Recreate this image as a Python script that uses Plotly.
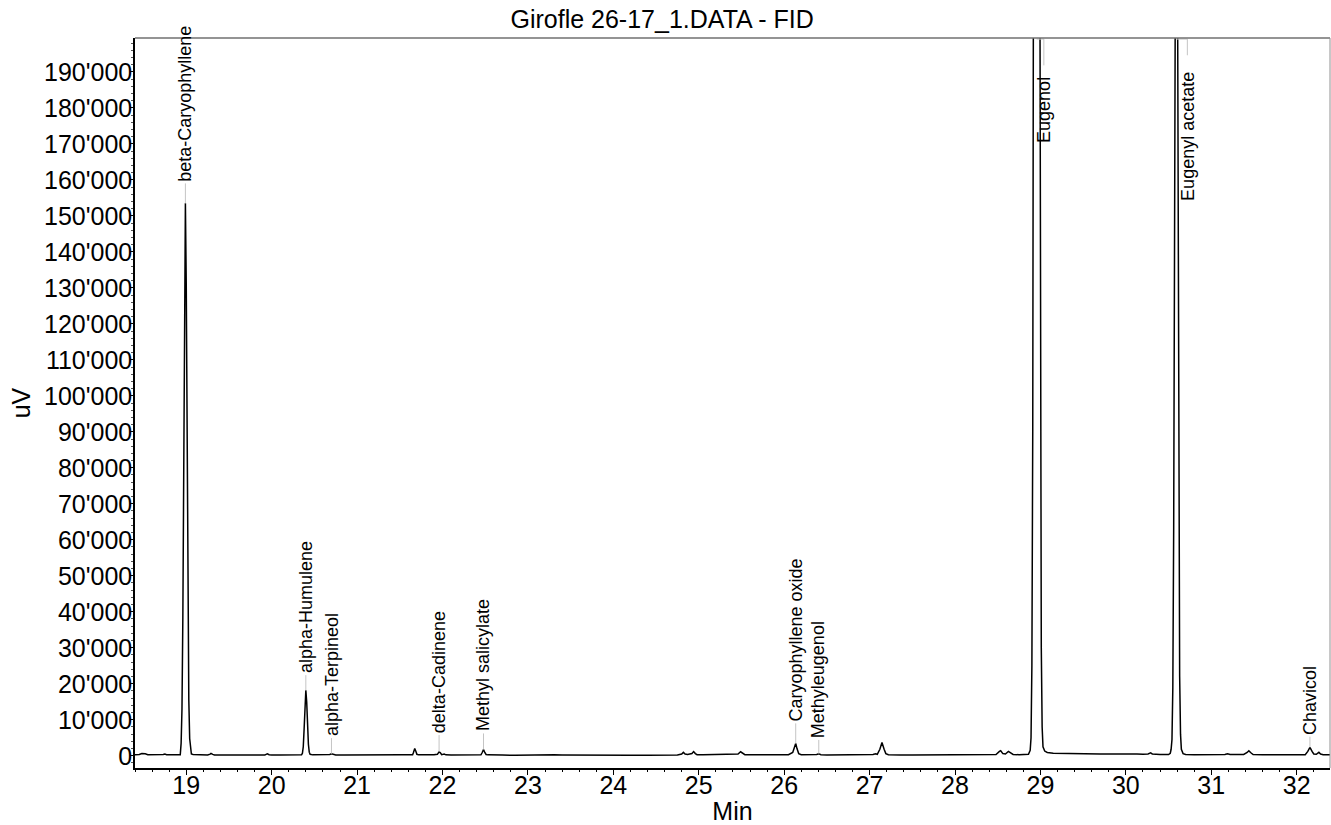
import plotly.graph_objects as go

# ---------------- data ----------------
time_min = [
    18.40, 18.45, 18.48, 18.50, 18.52, 18.55, 18.62, 18.70, 18.73, 18.75, 18.77, 18.82, 18.90,
    18.93, 18.94, 18.95, 18.96, 18.97, 18.98, 18.99, 19.00, 19.01, 19.02, 19.03, 19.04, 19.05, 19.06,
    19.08, 19.15, 19.25, 19.28, 19.29, 19.31, 19.33, 19.45, 19.60, 19.80, 19.92, 19.94, 19.95, 19.97,
    20.00, 20.10, 20.18, 20.20, 20.25, 20.30, 20.35, 20.36, 20.37, 20.38, 20.39, 20.40, 20.41, 20.42,
    20.43, 20.44, 20.45, 20.48, 20.55, 20.65, 20.68, 20.70, 20.72, 20.75, 20.85, 21.00, 21.10, 21.20,
    21.30, 21.36, 21.38, 21.40, 21.44, 21.46, 21.52, 21.60, 21.65, 21.66, 21.675, 21.69, 21.70, 21.72,
    21.80, 21.90, 21.94, 21.96, 21.975, 21.99, 22.02, 22.04, 22.10, 22.20, 22.30, 22.40, 22.45, 22.465,
    22.48, 22.495, 22.51, 22.53, 22.60, 22.70, 22.85, 22.93, 22.95, 22.97, 23.10, 23.18, 23.20, 23.22,
    23.27, 23.29, 23.31, 23.40, 23.60, 23.80, 24.00, 24.20, 24.40, 24.60, 24.75, 24.80, 24.82, 24.84,
    24.87, 24.92, 24.94, 24.96, 24.98, 25.05, 25.20, 25.28, 25.31, 25.42, 25.46, 25.49, 25.51, 25.54,
    25.65, 25.78, 25.82, 25.85, 25.95, 26.05, 26.10, 26.12, 26.135, 26.15, 26.17, 26.20, 26.30, 26.38,
    26.405, 26.43, 26.50, 26.60, 26.80, 26.95, 27.04, 27.07, 27.09, 27.12, 27.145, 27.17, 27.19, 27.22,
    27.33, 27.36, 27.50, 27.70, 27.85, 27.89, 27.92, 28.03, 28.06, 28.09, 28.25, 28.40, 28.48, 28.52,
    28.535, 28.56, 28.59, 28.625, 28.65, 28.68, 28.75, 28.82, 28.86, 28.88, 28.89, 28.90, 28.91, 28.92,
    28.935, 28.955, 28.975, 28.99, 29.00, 29.01, 29.02, 29.03, 29.05, 29.08, 29.15, 29.30, 29.50, 29.70,
    29.90, 30.05, 30.10, 30.13, 30.20, 30.26, 30.29, 30.31, 30.40, 30.50, 30.52, 30.53, 30.54, 30.55,
    30.56, 30.57, 30.58, 30.59, 30.60, 30.61, 30.62, 30.63, 30.64, 30.65, 30.67, 30.70, 30.80, 30.95,
    31.10, 31.16, 31.19, 31.22, 31.30, 31.38, 31.42, 31.44, 31.46, 31.49, 31.60, 31.80, 32.00, 32.10,
    32.13, 32.155, 32.18, 32.20, 32.23, 32.26, 32.28, 32.31, 32.40,
]
signal_uv = [
    300, 350, 600, 650, 550, 300, 280, 250, 350, 450, 300, 250, 250,
    300, 3500, 13000, 38000, 83000, 131000, 153500, 131000, 86000, 41000, 15500, 4800, 1400, 500,
    350, 250, 220, 450, 650, 400, 200, 180, 150, 180, 200, 450, 550, 300,
    200, 220, 300, 250, 280, 250, 280, 700, 2500, 7500, 14500, 18200, 15000, 8200,
    3200, 1000, 400, 250, 230, 250, 350, 550, 350, 220, 200, 230, 250, 280,
    300, 350, 450, 350, 450, 350, 280, 250, 300, 900, 2000, 1100, 400, 250,
    220, 250, 400, 1100, 800, 300, 450, 250, 200, 220, 200, 220, 280, 900,
    1750, 900, 350, 250, 180, 180, 170, 180, 350, 200, 180, 200, 400, 250,
    250, 400, 250, 200, 150, 120, 120, 140, 160, 180, 200, 500, 950, 500,
    350, 600, 1150, 600, 300, 250, 300, 450, 300, 300, 500, 1100, 800, 300,
    250, 300, 450, 280, 260, 280, 900, 2600, 3400, 2000, 600, 300, 250, 350,
    550, 300, 230, 250, 250, 300, 350, 550, 400, 1800, 3700, 1800, 600, 300,
    350, 200, 180, 200, 250, 420, 250, 280, 400, 250, 250, 280, 350, 1200,
    1400, 600, 500, 1200, 700, 350, 300, 300, 400, 1500, 5000, 25000, 90000, 250000,
    550000, 720000, 560000, 260000, 100000, 30000, 8000, 2500, 1300, 900, 700, 600, 550, 500,
    480, 500, 650, 500, 450, 500, 800, 500, 350, 350, 700, 1800, 4500, 19000,
    63000, 150000, 252000, 300000, 255000, 155000, 68000, 22000, 6000, 1800, 600, 350, 250, 250,
    300, 350, 550, 350, 330, 350, 900, 1400, 900, 350, 300, 280, 250, 300,
    1200, 2300, 1200, 500, 400, 950, 500, 300, 250,
]

peak_names = ["beta-Caryophyllene", "alpha-Humulene", "alpha-Terpineol", "delta-Cadinene",
              "Methyl salicylate", "Caryophyllene oxide", "Methyleugenol", "Eugenol",
              "Eugenyl acetate", "Chavicol"]
peak_rt = [18.99, 20.40, 20.70, 21.96, 22.48, 26.135, 26.405, 28.955, 30.59, 32.155]
peak_apex = [153500, 18200, 550, 1100, 1750, 3400, 550, 720000, 300000, 2300]
label_rt = [18.99, 20.40, 20.70, 21.96, 22.48, 26.135, 26.405, 29.04, 30.72, 32.155]
label_y = [159000, 22400, 4900, 5750, 6200, 9000, 4400, 189100, 190500, 5300]
leader_end = [159000, 22400, 4900, 5750, 6200, 9000, 4400, 191800, 194600, 5300]

x_range = [18.40, 32.39]
y_range = [-3400, 199400]

FONT = "Arial, Liberation Sans, sans-serif"
LEADER = "#c4c4c4"

fig = go.Figure()
fig.add_trace(go.Scatter(x=time_min, y=signal_uv, mode="lines",
                         line=dict(color="black", width=1.5), hoverinfo="x+y",
                         showlegend=False))

annotations = []
shapes = []
for name, rt, apex, lrt, ly, le in zip(peak_names, peak_rt, peak_apex, label_rt, label_y, leader_end):
    if apex > y_range[1]:
        # off-scale peak: leader runs from the top of the frame, label hangs below it
        shapes.append(dict(type="line", xref="x", yref="y", x0=rt, x1=lrt,
                           y0=y_range[1] - 300, y1=y_range[1] - 300,
                           line=dict(color=LEADER, width=1)))
        shapes.append(dict(type="line", xref="x", yref="y", x0=lrt, x1=lrt,
                           y0=y_range[1] - 300, y1=le, line=dict(color=LEADER, width=1)))
        annotations.append(dict(x=lrt, y=ly, xref="x", yref="y", text=name, showarrow=False,
                                textangle=-90, xanchor="center", yanchor="top",
                                font=dict(size=18, color="black", family=FONT)))
    else:
        shapes.append(dict(type="line", xref="x", yref="y", x0=rt, x1=rt, y0=apex, y1=le,
                           line=dict(color=LEADER, width=1)))
        annotations.append(dict(x=lrt, y=ly, xref="x", yref="y", text=name, showarrow=False,
                                textangle=-90, xanchor="center", yanchor="bottom",
                                font=dict(size=18, color="black", family=FONT)))

# grey frame on top and right
shapes.append(dict(type="line", xref="paper", yref="paper", x0=0, x1=1, y0=1, y1=1,
                   line=dict(color="#707070", width=1.5), layer="above"))
shapes.append(dict(type="line", xref="paper", yref="paper", x0=1, x1=1, y0=0, y1=1,
                   line=dict(color="#909090", width=1), layer="above"))

fig.update_layout(
    width=1331, height=825,
    margin=dict(l=135, r=1, t=38, b=57, autoexpand=False),
    paper_bgcolor="white", plot_bgcolor="white",
    separators=".'",
    font=dict(family=FONT, size=25, color="black"),
    title=dict(text="Girofle 26-17_1.DATA - FID", x=0.4975, xref="container", xanchor="center",
               y=0.977, yref="container", yanchor="middle",
               font=dict(size=25, family=FONT, color="black")),
    annotations=annotations,
    shapes=shapes,
    xaxis=dict(range=x_range, dtick=1, tick0=0, showgrid=False, zeroline=False,
               showline=True, linecolor="black", linewidth=1.5,
               ticks="outside", ticklen=5, tickwidth=1, tickcolor="black",
               ticklabelstandoff=-11,
               minor=dict(dtick=0.2, ticks="outside", ticklen=2, tickcolor="black", showgrid=False),
               tickfont=dict(size=25, family=FONT), automargin=False,
               title=dict(text="Min", standoff=4, font=dict(size=25, family=FONT))),
    yaxis=dict(range=y_range, dtick=10000, tick0=0, tickformat=",d", showgrid=False,
               zeroline=False, showline=True, linecolor="black", linewidth=1.5,
               ticks="outside", ticklen=3, tickwidth=1, tickcolor="black",
               ticklabelstandoff=-7,
               minor=dict(dtick=2000, ticks="outside", ticklen=2, tickcolor="#555", showgrid=False),
               tickfont=dict(size=25, family=FONT), automargin=False,
               title=dict(text="uV", standoff=6, font=dict(size=25, family=FONT))),
)

fig.write_html("out.html", config={"displayModeBar": False},
               post_script="document.body.style.margin='0';document.body.style.overflow='hidden';")
